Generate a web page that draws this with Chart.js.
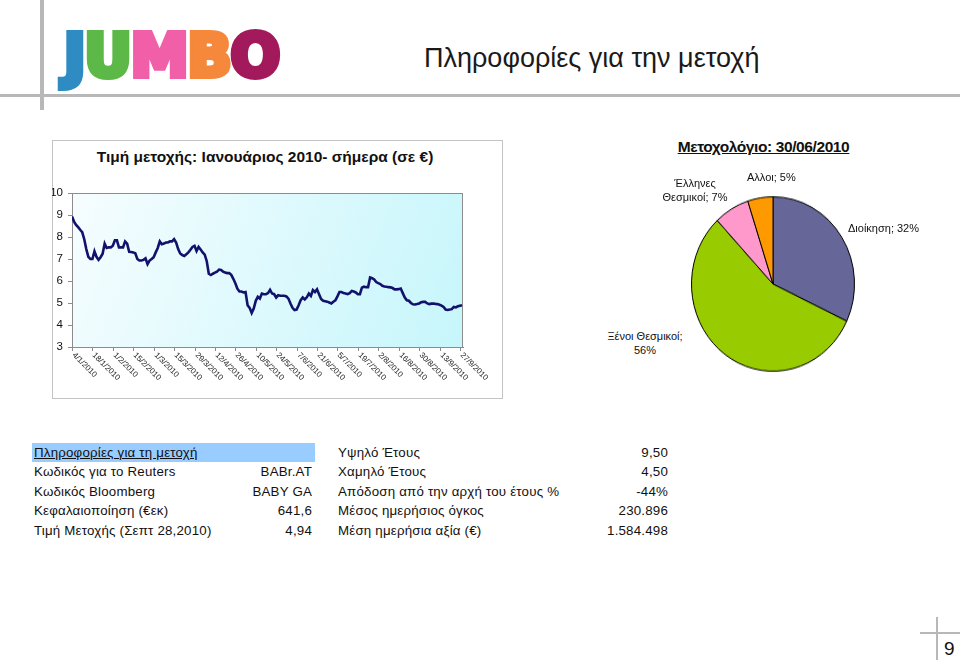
<!DOCTYPE html>
<html>
<head>
<meta charset="utf-8">
<script src="https://cdn.jsdelivr.net/npm/chart.js@4"></script>
<style>
  html,body{margin:0;padding:0;background:#fff;}
  body{width:960px;height:660px;position:relative;overflow:hidden;font-family:"Liberation Sans",Arial,sans-serif;color:#111;}
  .abs{position:absolute;}
  #vline{left:40px;top:0;width:4px;height:110px;background:#b8b8b8;}
  #hline{left:0;top:94px;width:960px;height:3px;background:#b8b8b8;}
  #logo{left:64px;top:21px;font-family:"DejaVu Sans",sans-serif;font-weight:bold;font-size:58px;letter-spacing:-1px;line-height:70px;white-space:nowrap;}
  #logo span{-webkit-text-stroke:6px currentColor;paint-order:stroke fill;}
  #title{left:424px;top:43px;font-size:27px;white-space:nowrap;color:#1a1a1a;}
  #lineBox{left:52px;top:140px;width:449px;height:257px;border:1px solid #c4c4c4;background:#fff;}
  #lineTitle{left:92px;top:148px;width:346px;text-align:center;font-weight:bold;font-size:15.5px;white-space:nowrap;}
  #lineCanvas{left:40px;top:140px;}
  #pieTitle{left:600px;top:138px;width:327px;text-align:center;font-weight:bold;font-size:15.5px;letter-spacing:-0.4px;text-decoration:underline;white-space:nowrap;}
  #pieCanvas{left:691px;top:202px;transform:scale(1,1.07);transform-origin:50% 50%;}
  .plab{font-size:11px;white-space:nowrap;line-height:14px;color:#111;}
  .row{font-size:13.3px;letter-spacing:0.2px;white-space:nowrap;height:19px;line-height:19px;}
  #hdrBar{left:32px;top:443px;width:283px;height:19px;background:#99ccff;}
  #pageNo{left:944px;top:638px;font-size:19px;}
  #pvl{left:936px;top:617px;width:2px;height:43px;background:#b8b8b8;}
  #phl{left:920px;top:632px;width:40px;height:2px;background:#b8b8b8;}
</style>
</head>
<body>
<div class="abs" id="vline"></div>
<div class="abs" id="hline"></div>
<div class="abs" id="logo"><span style="color:#2f8cc3">J</span><span style="color:#5cb947">U</span><span style="color:#f15fa9">M</span><span style="color:#f5883b">B</span><span style="color:#a2195c">O</span></div>
<div class="abs" id="title">Πληροφορίες για την μετοχή</div>

<div class="abs" id="lineBox"></div>
<div class="abs" id="lineTitle">Τιμή μετοχής: Ιανουάριος 2010- σήμερα (σε €)</div>
<canvas class="abs" id="lineCanvas" width="462" height="258"></canvas>

<div class="abs" id="pieTitle">Μετοχολόγιο: 30/06/2010</div>
<canvas class="abs" id="pieCanvas" width="164" height="164"></canvas>
<div id="pieLabels"></div>

<div class="abs" id="hdrBar"></div>
<div id="table"></div>

<div class="abs" id="pvl"></div>
<div class="abs" id="phl"></div>
<div class="abs" id="pageNo">9</div>

<script>
// ---- Line chart data ----
const tickLabels = ["4/1/2010","18/1/2010","1/2/2010","15/2/2010","1/3/2010","15/3/2010","29/3/2010","12/4/2010","26/4/2010","10/5/2010","24/5/2010","7/6/2010","21/6/2010","5/7/2010","19/7/2010","2/8/2010","16/8/2010","30/8/2010","13/9/2010","27/9/2010"];
const priceValues = [
 8.93,8.70,8.55,8.45,8.33,8.22,7.90,7.45,7.10,7.00,
 7.00,7.35,7.10,6.96,7.08,7.24,7.70,7.50,7.53,7.53,
 7.60,7.85,7.85,7.53,7.53,7.53,7.80,7.70,7.33,7.32,
 7.30,7.26,7.00,6.93,6.93,6.96,7.03,6.77,6.93,7.00,
 7.08,7.30,7.50,7.80,7.67,7.70,7.75,7.75,7.80,7.80,
 7.90,7.75,7.45,7.25,7.18,7.14,7.22,7.30,7.42,7.55,
 7.60,7.36,7.55,7.43,7.30,7.20,6.90,6.33,6.27,6.33,
 6.38,6.42,6.52,6.50,6.43,6.38,6.36,6.36,6.28,6.10,
 5.90,5.65,5.52,5.52,5.48,5.50,4.90,4.78,4.55,4.75,
 5.10,5.28,5.20,5.43,5.40,5.40,5.45,5.60,5.43,5.40,
 5.25,5.35,5.33,5.33,5.33,5.30,5.20,4.98,4.78,4.68,
 4.70,4.90,5.13,5.25,5.16,5.26,5.43,5.32,5.59,5.50,
 5.62,5.40,5.18,5.10,5.08,5.06,5.02,4.98,5.06,5.12,
 5.30,5.50,5.50,5.45,5.43,5.40,5.45,5.55,5.52,5.48,
 5.40,5.40,5.70,5.74,5.72,5.72,6.16,6.13,6.07,5.95,
 5.90,5.86,5.78,5.75,5.74,5.72,5.71,5.68,5.62,5.62,
 5.63,5.66,5.45,5.25,5.12,5.10,5.00,4.94,4.93,4.95,
 4.98,5.03,5.05,5.05,4.98,4.95,4.97,4.98,4.96,4.95,
 4.92,4.88,4.82,4.70,4.68,4.70,4.72,4.82,4.80,4.85,
 4.88,4.90
];
const yMin = 3, yMax = 10;

// ---- Pie data ----
const pieLabels = ["Διοίκηση","Ξένοι Θεσμικοί","Έλληνες Θεσμικοί","Αλλοι"];
const pieValues = [32,56,7,5];
const pieColors = ["#666699","#99cc00","#ff99cc","#ff9900"];

// ---- Table data ----
const leftNames = ["Κωδικός για το Reuters","Κωδικός Bloomberg","Κεφαλαιοποίηση (€εκ)","Τιμή Μετοχής (Σεπτ 28,2010)"];
const leftValues = ["BABr.AT","BABY GA","641,6","4,94"];
const rightNames = ["Υψηλό Έτους","Χαμηλό Έτους","Απόδοση από την αρχή του έτους %","Μέσος ημερήσιος όγκος","Μέση ημερήσια αξία (€)"];
const rightValues = ["9,50","4,50","-44%","230.896","1.584.498"];
const tableHeader = "Πληροφορίες για τη μετοχή";

// ---- Build table ----
(function(){
  const t = document.getElementById('table');
  const rowTop = [443,462,482,501,521];
  let h = '';
  h += `<div class="abs row" style="left:34px;top:${rowTop[0]}px;text-decoration:underline;">${tableHeader}</div>`;
  leftNames.forEach((n,i)=>{
    h += `<div class="abs row" style="left:34px;top:${rowTop[i+1]}px;">${n}</div>`;
    h += `<div class="abs row" style="left:160px;width:152px;text-align:right;top:${rowTop[i+1]}px;">${leftValues[i]}</div>`;
  });
  rightNames.forEach((n,i)=>{
    h += `<div class="abs row" style="left:338px;top:${rowTop[i]}px;">${n}</div>`;
    h += `<div class="abs row" style="left:520px;width:148px;text-align:right;top:${rowTop[i]}px;">${rightValues[i]}</div>`;
  });
  t.innerHTML = h;
})();

// ---- Pie labels ----
(function(){
  const el = document.getElementById('pieLabels');
  const pos = [
    {left:848, top:221, align:'left', lines:[pieLabels[0]+'; '+pieValues[0]+'%']},
    {left:606, top:329, align:'center', w:78, lines:[pieLabels[1]+';', pieValues[1]+'%']},
    {left:655, top:176, align:'center', w:80, lines:[pieLabels[2].split(' ')[0], pieLabels[2].split(' ')[1]+'; '+pieValues[2]+'%']},
    {left:747, top:170, align:'left', lines:[pieLabels[3]+'; '+pieValues[3]+'%']}
  ];
  let h='';
  pos.forEach(p=>{
    h += `<div class="abs plab" style="left:${p.left}px;top:${p.top}px;text-align:${p.align};${p.w?'width:'+p.w+'px;':''}">${p.lines.join('<br>')}</div>`;
  });
  el.innerHTML = h;
})();

// ---- Line chart ----
const bgPlugin = {
  id:'bgPlugin',
  beforeDatasetsDraw(chart){
    const {ctx, chartArea:a} = chart;
    ctx.save();
    const g = ctx.createLinearGradient(a.left, a.top, a.right, a.bottom);
    g.addColorStop(0,'#f6fdff');
    g.addColorStop(1,'#c6f6fb');
    ctx.fillStyle = g;
    ctx.fillRect(a.left, a.top, a.right-a.left, a.bottom-a.top);
    ctx.strokeStyle = '#8c8c8c';
    ctx.lineWidth = 1;
    ctx.strokeRect(a.left+0.5, a.top+0.5, a.right-a.left-1, a.bottom-a.top);
    ctx.restore();
  },
  afterDraw(chart){
    const {ctx, chartArea:a, scales:{x}} = chart;
    ctx.save();
    ctx.strokeStyle = '#8c8c8c';
    ctx.lineWidth = 1;
    ctx.fillStyle = '#222';
    ctx.font = '8px "Liberation Sans", Arial, sans-serif';
    ctx.textAlign = 'left';
    ctx.textBaseline = 'middle';
    tickLabels.forEach((lab,i)=>{
      const px = Math.round(x.getPixelForValue(i*10))+0.5;
      ctx.beginPath();
      ctx.moveTo(px, a.bottom);
      ctx.lineTo(px, a.bottom+4);
      ctx.stroke();
      ctx.save();
      ctx.translate(px+1, a.bottom+7);
      ctx.rotate(Math.PI/4);
      ctx.fillText(lab, 0, 0);
      ctx.restore();
    });
    ctx.restore();
  }
};

new Chart(document.getElementById('lineCanvas'), {
  type:'line',
  data:{datasets:[{
    data: priceValues.map((v,i)=>({x:i,y:v})),
    borderColor:'#12126c',
    borderWidth:2.6,
    pointRadius:0,
    tension:0,
    fill:false
  }]},
  options:{
    responsive:false,
    animation:false,
    events:[],
    layout:{padding:{top:53,right:39,bottom:51,left:12}},
    plugins:{legend:{display:false},tooltip:{enabled:false}},
    scales:{
      x:{type:'linear',min:0,max:priceValues.length-0.5,
         ticks:{display:false,stepSize:10},
         grid:{display:false},
         border:{display:true,color:'#8c8c8c'},
         afterFit(s){s.height=0;}},
      y:{min:yMin,max:yMax,
         ticks:{stepSize:1,color:'#111',padding:5,font:{size:11.5,family:'"Liberation Sans", Arial, sans-serif'}},
         grid:{drawOnChartArea:false,tickLength:4,color:'#8c8c8c'},
         border:{display:true,color:'#8c8c8c'},
         afterFit(s){s.width=20;}}
    }
  },
  plugins:[bgPlugin]
});

// ---- Pie chart ----
new Chart(document.getElementById('pieCanvas'), {
  type:'pie',
  data:{labels:pieLabels,datasets:[{data:pieValues,backgroundColor:pieColors,borderColor:'#000',borderWidth:1,hoverOffset:0}]},
  options:{responsive:false,animation:false,events:[],layout:{padding:0},
    plugins:{legend:{display:false},tooltip:{enabled:false}}}
});
</script>
</body>
</html>
